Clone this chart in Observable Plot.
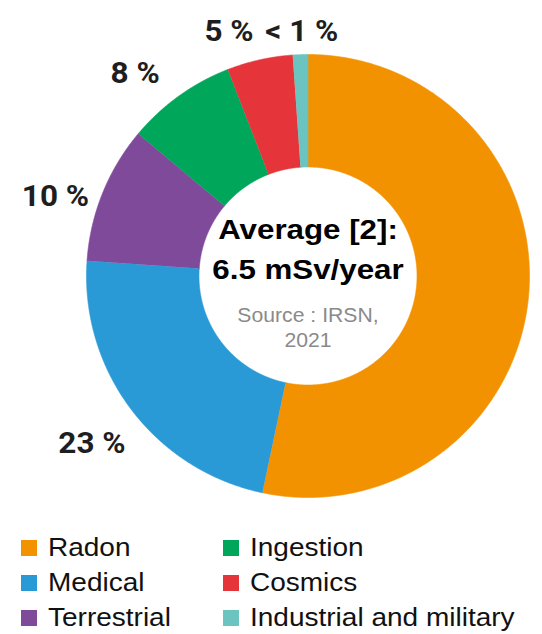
<!DOCTYPE html>
<html><head><meta charset="utf-8">
<script src="https://cdn.jsdelivr.net/npm/d3@7"></script>
<script src="https://cdn.jsdelivr.net/npm/@observablehq/plot@0.6"></script>
<style>
body{margin:0;background:#fff;font-family:"Liberation Sans",Arial,sans-serif;}
#chart svg{display:block}
#legend{display:grid;grid-auto-flow:column;grid-template-rows:repeat(3,35px);grid-template-columns:202px 320px;padding:10px 0 0 21px;}
.item{display:flex;align-items:center;font-size:25px;color:#111;}
.sw{width:16px;height:16px;margin-right:11px;flex:none}
.lab{display:inline-block;transform:scaleX(1.12);transform-origin:left center;white-space:nowrap}
</style></head><body><div id="chart"></div><div id="legend"></div>
<script>
const categories = ["Radon", "Medical", "Terrestrial", "Ingestion", "Cosmics", "Industrial and military"];
const shares = [53.3, 22.8, 10.0, 8.0, 4.8, 1.1];
const shareLabels = [null, "23 %", "10 %", "8 %", "5 %", "< 1 %"];
const colors = ["#F39200", "#2A9AD7", "#7F4A99", "#00A65A", "#E6353A", "#6CC4C1"];
const centerTitle = ["Average [2]:", "6.5 mSv/year"];
const centerSource = ["Source : IRSN,", "2021"];
// pixel nudges for the outside labels (layout only)
const labelNudge = [[0, 0], [-4, 7], [-6, 20], [-18, 13], [-21, 15], [3, 21]];

const W = 542, H = 520, cx = 307.5, cy = 275.5, R = 221.5;
const innerRatio = 109 / 221.5, labelRadius = 1.2;

const total = d3.sum(shares);
let acc = 0;
const slices = categories.map((name, i) => {
  const a0 = acc / total * 2 * Math.PI; acc += shares[i];
  const a1 = acc / total * 2 * Math.PI;
  return {name, a0, a1, i};
});
const pts = [];
for (const s of slices) {
  const n = Math.max(4, Math.ceil((s.a1 - s.a0) / 0.004));
  for (let k = 0; k <= n; k++) { const a = s.a0 + (s.a1 - s.a0) * k / n; pts.push({name: s.name, x: Math.sin(a), y: Math.cos(a)}); }
  for (let k = n; k >= 0; k--) { const a = s.a0 + (s.a1 - s.a0) * k / n; pts.push({name: s.name, x: innerRatio * Math.sin(a), y: innerRatio * Math.cos(a)}); }
}
const labels = slices.filter(s => shareLabels[s.i]).map(s => {
  const m = (s.a0 + s.a1) / 2;
  return {label: shareLabels[s.i],
    x: labelRadius * Math.sin(m) + labelNudge[s.i][0] / R,
    y: labelRadius * Math.cos(m) - labelNudge[s.i][1] / R};
});

const plot = Plot.plot({
  width: W, height: H,
  marginLeft: cx - R, marginRight: W - (cx + R), marginTop: cy - R, marginBottom: H - (cy + R),
  x: {domain: [-1, 1], axis: null},
  y: {domain: [-1, 1], axis: null},
  color: {domain: categories, range: colors},
  style: {background: "white", overflow: "visible"},
  marks: [
    Plot.line(pts, {x: "x", y: "y", z: "name", fill: "name", stroke: "name", strokeWidth: 0.6, curve: "linear"}),
    Plot.text(labels, {x: "x", y: "y", text: "label", fontSize: 30, fontWeight: "bold", fontFamily: "Roboto", fill: "#1e1e1e", ariaDescription: "pct"}),
    Plot.text([centerTitle[0]], {text: d => d, frameAnchor: "middle", dy: -46, fontSize: 27, fontWeight: "bold", fontFamily: "Liberation Sans", fill: "#000", ariaDescription: "center-title"}),
    Plot.text([centerTitle[1]], {text: d => d, frameAnchor: "middle", dy: -6, fontSize: 27, fontWeight: "bold", fontFamily: "Liberation Sans", fill: "#000", ariaDescription: "center-title"}),
    Plot.text([centerSource[0]], {text: d => d, frameAnchor: "middle", dy: 39.5, fontSize: 20, fontFamily: "Liberation Sans", fill: "#8a8a8a", ariaDescription: "center-source"}),
    Plot.text([centerSource[1]], {text: d => d, frameAnchor: "middle", dy: 65, fontSize: 20, fontFamily: "Liberation Sans", fill: "#8a8a8a", ariaDescription: "center-source"})
  ]
});
function stretch(key, k) {
  plot.querySelectorAll(`[aria-description="${key}"] text`).forEach(t => {
    const tr = t.getAttribute("transform");
    if (tr) t.setAttribute("transform", tr + ` scale(${k},1)`);
    else {
      const x = +(t.getAttribute("x") || 0), y = +(t.getAttribute("y") || 0);
      t.removeAttribute("x"); t.removeAttribute("y");
      t.setAttribute("transform", `translate(${x},${y}) scale(${k},1)`);
    }
  });
}
stretch("center-title", 1.16);
stretch("center-source", 1.06);
stretch("pct", 1.05);
document.getElementById("chart").appendChild(plot);

const leg = d3.select("#legend");
categories.forEach((c, i) => {
  const it = leg.append("div").attr("class", "item");
  it.append("span").attr("class", "sw").style("background", colors[i]);
  it.append("span").attr("class", "lab").text(c);
});
</script></body></html>
